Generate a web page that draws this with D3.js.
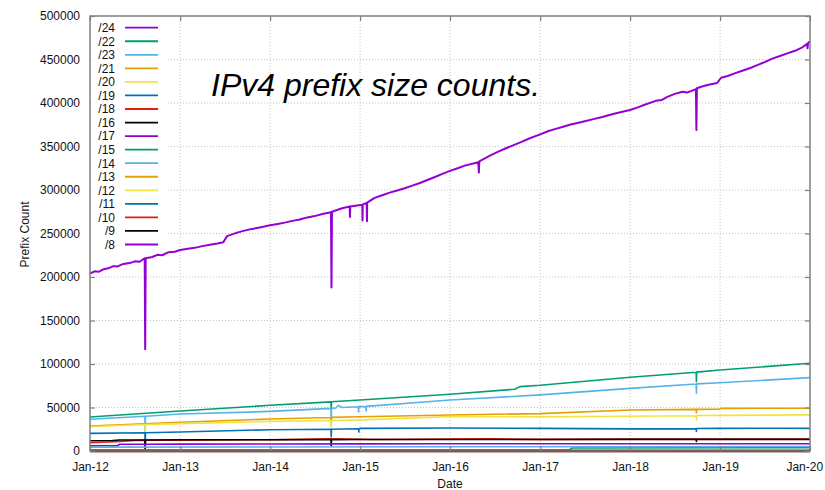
<!DOCTYPE html>
<html>
<head>
<meta charset="utf-8">
<script src="https://cdn.jsdelivr.net/npm/d3@7"></script>
<style>
  body { margin: 0; background: #fff; }
  text { font-family: "Liberation Sans", Arial, sans-serif; }
</style>
</head>
<body>
<svg id="chart" width="825" height="490"></svg>
<script>
// Tick labels
const xTickDates = ["2012-01-01","2013-01-01","2014-01-01","2015-01-01","2016-01-01",
                    "2017-01-01","2018-01-01","2019-01-01","2020-01-01"];
const yTickValues = [0,50000,100000,150000,200000,250000,300000,350000,400000,450000,500000];

// Legend order (also draw order)
const prefixLabels = ["/24","/22","/23","/21","/20","/19","/18","/16","/17","/15","/14","/13","/12","/11","/10","/9","/8"];
const palette = ["#9400d3","#009e73","#56b4e9","#e69f00","#f0e442","#0072b2","#e51e10","#000000"];

// Prefix counts per size: [date, count]
const p24 = [["2012-01-01",204000],["2012-01-20",206500],["2012-02-05",206000],["2012-02-25",209000],
  ["2012-03-15",210000],["2012-04-05",212500],["2012-04-20",212000],["2012-05-15",215000],
  ["2012-06-10",216000],["2012-07-01",218000],["2012-07-20",217500],["2012-08-10",221500],
  ["2012-08-12",117000],["2012-08-14",221500],["2012-09-10",223000],["2012-09-30",225500],
  ["2012-10-20",225000],["2012-11-15",228500],["2012-12-10",229000],["2013-01-01",231000],
  ["2013-02-01",232500],["2013-03-01",233500],["2013-04-01",235500],["2013-05-01",237000],
  ["2013-06-01",238500],["2013-06-25",240000],["2013-07-10",247000],["2013-08-20",251000],
  ["2013-09-15",253000],["2013-10-15",255000],["2013-11-20",257000],["2014-01-01",259500],
  ["2014-02-01",261000],["2014-03-01",262500],["2014-04-01",264500],["2014-05-01",266000],
  ["2014-06-01",268500],["2014-07-01",270000],["2014-08-01",272500],["2014-09-05",274500],
  ["2014-09-07",188000],["2014-09-09",275000],["2014-10-20",279000],["2014-11-20",281000],
  ["2014-11-21",269000],["2014-11-22",281000],["2015-01-10",283000],["2015-01-11",265000],
  ["2015-01-12",283500],["2015-01-28",285000],["2015-01-29",264000],["2015-01-30",285500],
  ["2015-03-01",291000],["2015-04-01",294000],["2015-05-01",297000],["2015-06-01",299500],
  ["2015-07-01",302000],["2015-08-01",305000],["2015-09-01",308000],["2015-10-01",311500],
  ["2015-11-01",315000],["2015-12-01",318500],["2016-01-01",322000],["2016-02-01",325000],
  ["2016-03-01",328000],["2016-04-25",332000],["2016-04-27",320000],["2016-04-29",333000],
  ["2016-06-15",340000],["2016-07-15",344000],["2016-08-15",348000],["2016-09-15",351500],
  ["2016-10-15",355000],["2016-11-20",359500],["2017-01-01",364000],["2017-02-01",367500],
  ["2017-03-01",370000],["2017-04-01",372500],["2017-05-01",375000],["2017-06-01",377000],
  ["2017-07-01",379000],["2017-08-05",381500],["2017-09-10",384000],["2017-10-05",386000],
  ["2017-11-01",388000],["2017-12-01",390000],["2018-01-01",392000],["2018-02-01",395000],
  ["2018-03-01",398000],["2018-04-15",402500],["2018-05-10",403500],["2018-06-01",407000],
  ["2018-07-01",410500],["2018-08-01",413000],["2018-08-20",412000],["2018-09-25",416000],
  ["2018-09-27",369000],["2018-09-29",417000],["2018-10-20",419000],["2018-11-15",421000],
  ["2018-12-20",423000],["2019-01-05",429000],["2019-02-01",431000],["2019-03-01",434000],
  ["2019-04-01",437000],["2019-05-01",440000],["2019-06-01",443500],["2019-07-01",447000],
  ["2019-08-01",451000],["2019-09-01",454000],["2019-10-01",457000],["2019-11-01",460000],
  ["2019-12-01",464000],["2019-12-20",468000],["2019-12-22",463000],["2019-12-24",469000],
  ["2020-01-01",471000]];

const p22 = [["2012-01-01",39000],["2013-01-01",46000],["2014-01-01",52500],["2014-09-05",56500],
  ["2014-09-06",48000],["2014-09-07",56600],["2015-01-01",58600],["2016-01-01",65200],
  ["2016-09-20",71000],["2016-10-10",74000],["2017-01-01",75500],["2018-01-01",84700],
  ["2018-09-26",90500],["2018-09-27",79700],["2018-09-28",90700],["2019-01-01",93100],
  ["2020-01-01",100800]];

const p23 = [["2012-01-01",36500],["2012-08-11",40000],["2012-08-12",20000],["2012-08-13",40000],
  ["2013-01-01",42500],["2014-01-01",45500],["2014-09-05",49000],["2014-09-06",30000],
  ["2014-09-07",49000],["2014-09-25",49500],["2014-10-05",52500],["2014-10-20",50000],
  ["2014-12-25",50800],["2014-12-26",45000],["2014-12-27",51000],["2015-01-25",51200],
  ["2015-01-26",46000],["2015-01-27",51300],["2016-01-01",58600],["2017-01-01",64500],
  ["2018-01-01",72000],["2018-09-26",77000],["2018-09-27",66300],["2018-09-28",77200],
  ["2019-01-01",78500],["2020-01-01",84300]];

const p21 = [["2012-01-01",28700],["2013-01-01",33000],["2014-01-01",36800],["2014-09-05",38500],
  ["2014-09-06",33000],["2014-09-07",38600],["2015-01-01",39400],["2016-01-01",41400],
  ["2017-01-01",43000],["2018-01-01",47100],["2018-09-26",47900],["2018-09-27",44000],
  ["2018-09-28",47900],["2018-12-28",48000],["2019-01-05",49000],["2020-01-01",49200]];

const p20 = [["2012-01-01",27900],["2012-08-11",30500],["2012-08-12",22000],["2012-08-13",30500],
  ["2013-01-01",31500],["2014-01-01",34000],["2014-09-05",35000],["2014-09-06",27000],
  ["2014-09-07",35000],["2015-01-01",35800],["2016-01-01",39500],["2017-01-01",39200],
  ["2018-01-01",40000],["2018-09-26",40600],["2018-09-27",35600],["2018-09-28",40800],
  ["2019-01-01",41000],["2020-01-01",41500]];

const p19 = [["2012-01-01",20300],["2012-08-11",21000],["2012-08-12",2000],["2012-08-13",21000],
  ["2013-01-01",21800],["2014-01-01",24500],["2014-09-05",25000],["2014-09-06",16400],
  ["2014-09-07",25000],["2014-12-26",25500],["2014-12-27",22000],["2014-12-28",25500],
  ["2015-01-01",26000],["2016-01-01",26500],["2017-01-01",26000],["2018-01-01",25400],
  ["2018-09-26",25600],["2018-09-27",22500],["2018-09-28",25800],["2019-01-01",26000],
  ["2019-09-15",26200],["2020-01-01",26000]];

const p18 = [["2012-01-01",9500],["2012-05-01",11000],["2012-07-01",12000],["2012-08-11",12300],
  ["2012-08-12",5000],["2012-08-13",12300],["2013-01-01",12400],["2014-01-01",13000],
  ["2014-09-01",13900],["2015-03-01",13300],["2016-06-01",13900],["2017-01-01",13400],
  ["2018-01-01",13600],["2020-01-01",13800]];

const p16 = [["2012-01-01",11800],["2012-04-01",12000],["2012-05-01",12600],["2012-08-11",12700],
  ["2012-08-12",3000],["2012-08-13",12700],["2013-01-01",12900],["2014-01-01",13000],
  ["2014-09-05",13100],["2014-09-06",6000],["2014-09-07",13100],["2015-01-01",13200],
  ["2016-01-01",13300],["2017-01-01",13300],["2018-01-01",13400],["2018-09-26",13400],
  ["2018-09-27",11000],["2018-09-28",13400],["2020-01-01",13400]];

const p17 = [["2012-01-01",6100],["2012-04-20",6100],["2012-05-01",7700],["2012-08-11",7800],
  ["2012-08-12",4000],["2012-08-13",7800],["2013-01-01",7900],["2014-01-01",8000],
  ["2015-01-01",8200],["2016-01-01",8300],["2017-01-01",8400],["2020-01-01",8400]];

const p15 = [["2012-01-01",1500],["2017-05-01",1500],["2017-05-10",3500],["2020-01-01",3800]];
const p14 = [["2012-01-01",4500],["2016-01-01",4800],["2020-01-01",5200]];
const p13 = [["2012-01-01",600],["2020-01-01",650]];
const p12 = [["2012-01-01",300],["2020-01-01",320]];
const p11 = [["2012-01-01",100],["2020-01-01",110]];
const p10 = [["2012-01-01",40],["2020-01-01",45]];
const p9  = [["2012-01-01",15],["2020-01-01",16]];
const p8  = [["2012-01-01",18],["2020-01-01",18]];

const seriesValues = [p24,p22,p23,p21,p20,p19,p18,p16,p17,p15,p14,p13,p12,p11,p10,p9,p8];

const parse = d3.timeParse("%Y-%m-%d");
const svg = d3.select("#chart");

const x = d3.scaleTime()
  .domain([parse("2012-01-01"), parse("2020-01-01")])
  .range([90, 810]);
const y = d3.scaleLinear().domain([0, 500000]).range([451, 16]);

const borderColor = "#808080";
const gridColor = "#c4c4c4";

// grid
const grid = svg.append("g");
grid.selectAll("line.gy").data(yTickValues.slice(1, -1)).join("line")
  .attr("x1", x.range()[0]).attr("x2", x.range()[1])
  .attr("y1", d => y(d)).attr("y2", d => y(d))
  .attr("stroke", gridColor).attr("stroke-width", 1).attr("stroke-dasharray", "1,2");
grid.selectAll("line.gx").data(xTickDates.slice(1, -1)).join("line")
  .attr("x1", d => x(parse(d))).attr("x2", d => x(parse(d)))
  .attr("y1", y.range()[0]).attr("y2", y.range()[1])
  .attr("stroke", gridColor).attr("stroke-width", 1).attr("stroke-dasharray", "1,2");

// series
const line = d3.line()
  .x(d => x(parse(d[0])))
  .y(d => y(d[1]));

const plot = svg.append("g");
seriesValues.forEach((vals, i) => {
  plot.append("path")
    .datum(vals)
    .attr("fill", "none")
    .attr("stroke", palette[i % palette.length])
    .attr("stroke-width", i === 0 ? 2 : 1.6)
    .attr("stroke-linejoin", "round")
    .attr("d", line);
});

// border frame
const [x0, x1] = x.range();
const [yb, yt] = y.range();
svg.append("rect")
  .attr("x", x0).attr("y", yt).attr("width", x1 - x0).attr("height", yb - yt)
  .attr("fill", "none").attr("stroke", borderColor).attr("stroke-width", 1.5);
// overlapping near-zero lines along the floor
svg.append("line")
  .attr("x1", x0).attr("x2", x1).attr("y1", y(0)).attr("y2", y(0))
  .attr("stroke", "#7d5c58").attr("stroke-width", 3);

// axes (ticks inward, mirrored)
const axisLeft = d3.axisLeft(y).tickValues(yTickValues).tickSize(-5).tickPadding(10).tickFormat(d3.format("d"));
const axisRight = d3.axisRight(y).tickValues(yTickValues).tickSize(-5).tickFormat("");
const xTickObjs = xTickDates.map(parse);
const axisBottom = d3.axisBottom(x).tickValues(xTickObjs).tickSize(-5).tickPadding(11).tickFormat(d3.timeFormat("Jan-%y"));
const axisTop = d3.axisTop(x).tickValues(xTickObjs).tickSize(-5).tickFormat("");

function styleAxis(g) {
  g.select(".domain").remove();
  g.selectAll(".tick line").attr("stroke", borderColor).attr("stroke-width", 1.2);
  g.selectAll(".tick text").attr("fill", "#111").style("font-size", "12px")
    .style("font-family", '"Liberation Sans", Arial, sans-serif');
}
svg.append("g").attr("transform", `translate(${x0},0)`).call(axisLeft).call(styleAxis);
svg.append("g").attr("transform", `translate(${x1},0)`).call(axisRight).call(styleAxis);
const bottomAxis = svg.append("g").attr("transform", `translate(0,${yb})`).call(axisBottom).call(styleAxis);
// keep the last date label inside the page edge
bottomAxis.selectAll(".tick text").filter((d, i, n) => i === n.length - 1)
  .attr("text-anchor", "end").attr("dx", "1.05em");
svg.append("g").attr("transform", `translate(0,${yt})`).call(axisTop).call(styleAxis);

// axis titles
svg.append("text").attr("x", (x0 + x1) / 2).attr("y", 488)
  .attr("text-anchor", "middle").style("font-size", "12px").attr("fill", "#111").text("Date");
svg.append("text").attr("transform", `translate(29,${(yb + yt) / 2 + 1}) rotate(-90)`)
  .attr("text-anchor", "middle").style("font-size", "12px").attr("fill", "#111").text("Prefix Count");

// key (opaque)
const key = svg.append("g");
key.append("rect").attr("x", x0 + 1).attr("y", 20).attr("width", 75).attr("height", 232).attr("fill", "#fff");
prefixLabels.forEach((lab, i) => {
  const cy = 27.7 + i * 13.55;
  key.append("text").attr("x", 115).attr("y", cy + 4.3).attr("text-anchor", "end")
    .style("font-size", "12px").attr("fill", "#111").text(lab);
  key.append("line").attr("x1", 125).attr("x2", 158).attr("y1", cy).attr("y2", cy)
    .attr("stroke", palette[i % palette.length]).attr("stroke-width", 1.8);
});

// chart title label
svg.append("text").attr("x", 211).attr("y", 96)
  .style("font-size", "32px").style("font-style", "italic").attr("fill", "#000")
  .text("IPv4 prefix size counts.");
</script>
</body>
</html>
